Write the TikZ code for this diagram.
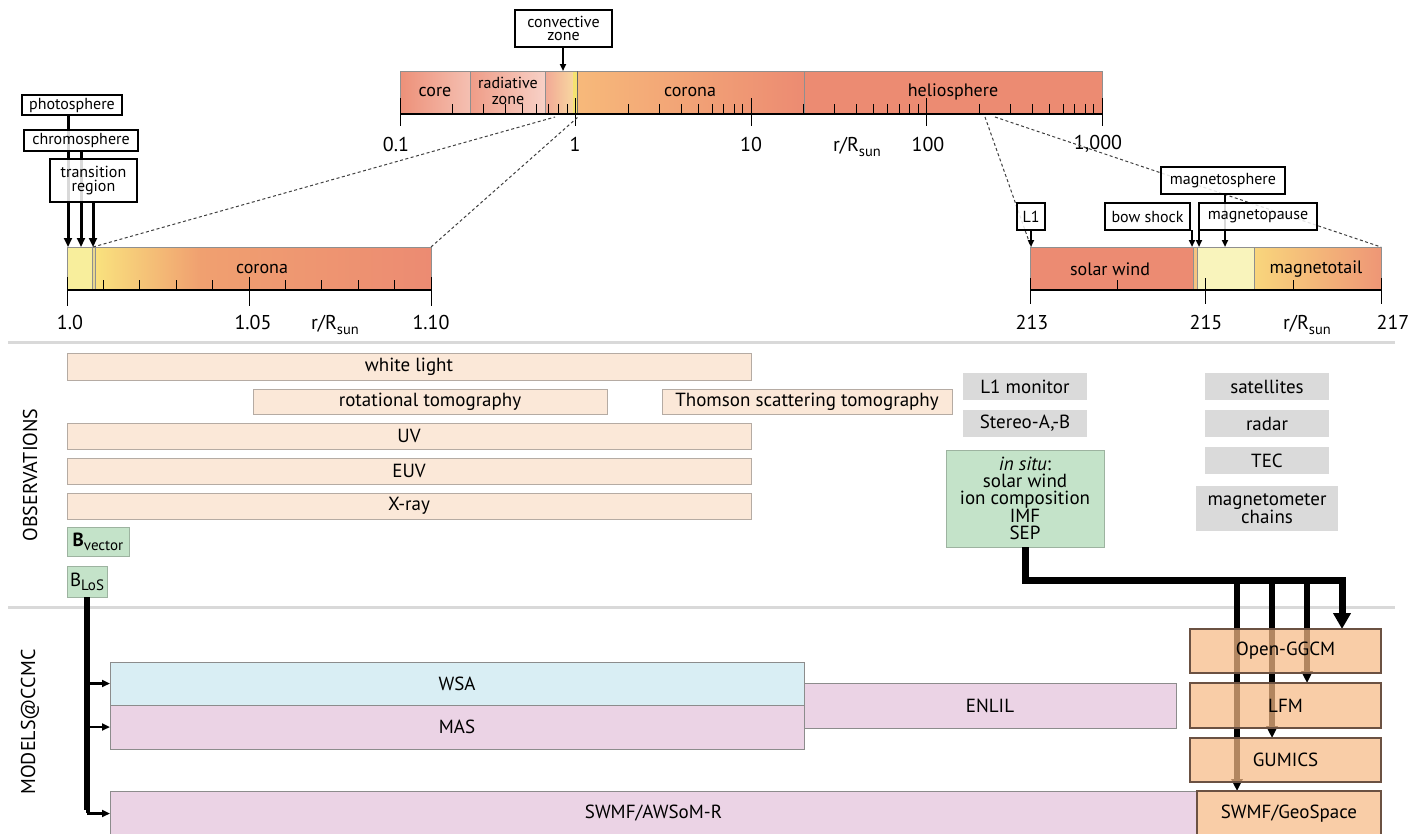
\documentclass[tikz,border=0pt]{standalone}
\usepackage{fontspec}
\setmainfont{PT Sans}
\usetikzlibrary{arrows.meta}
\definecolor{salmon}{HTML}{EC8B72}
\definecolor{beige}{HTML}{FBE8D8}
\definecolor{obsline}{HTML}{B5ABA3}
\definecolor{grnfill}{HTML}{C4E3C9}
\definecolor{grnline}{HTML}{9DB3A0}
\definecolor{grayfill}{HTML}{DADADA}
\definecolor{wsafill}{HTML}{D9EEF4}
\definecolor{pinkfill}{HTML}{EBD3E5}
\definecolor{orgfill}{HTML}{F8BA86}
\definecolor{orgline}{HTML}{6B5142}
\definecolor{sepcol}{HTML}{D9D9D9}
\definecolor{segline}{HTML}{8F8F8F}
\definecolor{yel}{HTML}{F8EE9C}
\definecolor{paleyel}{HTML}{F9F4BC}
\definecolor{convR}{RGB}{248,214,160}
\definecolor{phot}{RGB}{245,226,112}
\definecolor{coronaL}{RGB}{247,185,122}
\definecolor{transc}{RGB}{232,216,140}
\definecolor{lcorY}{RGB}{249,226,126}
\definecolor{lcorM}{RGB}{240,160,112}
\definecolor{bowc}{RGB}{245,196,128}
\definecolor{mtailL}{RGB}{249,214,124}
\definecolor{mtailR}{RGB}{238,150,118}
\newcommand{\bx}[7]{\node[#6, minimum width={#4-#2}, minimum height={#5-#3}] (#1) at ({(#2+#4)/2},{(#3+#5)/2}) {#7};}
\newcommand{\rsun}{r/R\raisebox{-0.45ex}{\fontsize{14.5}{14.5}\selectfont sun}}
\begin{document}
\begin{tikzpicture}[x=1pt,y=-1pt,
  every node/.style={inner sep=0pt, outer sep=0pt},
  lbl/.style={draw=black, line width=1.2pt, fill=white, fill opacity=0.85, text opacity=1, align=center, font=\fontsize{16}{13.5}\selectfont},
  obs/.style={draw=obsline, line width=0.8pt, fill=beige, font=\fontsize{19}{19}\selectfont},
  gobs/.style={fill=grayfill, font=\fontsize{19}{16}\selectfont, align=center},
  grn/.style={draw=grnline, line width=0.8pt, fill=grnfill, font=\fontsize{19}{17}\selectfont, align=center},
  mdl/.style={draw=black!45, line width=0.8pt, font=\fontsize{19}{19}\selectfont},
  org/.style={draw=orgline, line width=1.3pt, fill=orgfill, fill opacity=0.72, text opacity=1, font=\fontsize{19}{19}\selectfont},
  seg/.style={draw=segline, line width=0.9pt},
  axisline/.style={line width=2.8pt},
  tk/.style={line width=1pt},
  ax/.style={font=\fontsize{20}{20}\selectfont},
  sg/.style={font=\fontsize{18}{15}\selectfont, align=center},
  dsh/.style={dash pattern=on 3pt off 2.5pt, line width=1pt, draw=black!75},
  thinarr/.style={line width=1.8pt, -{Triangle[length=7pt,width=6pt]}},
  midarr/.style={line width=3pt, -{Triangle[length=9pt,width=8pt]}},
  bigline/.style={line width=6.5pt, line join=miter},
  bigarr/.style={line width=7pt, line join=miter, -{Triangle[length=16pt,width=17pt]}},
  inarr/.style={line width=6pt, -{Triangle[length=12pt,width=11pt]}},
  sidearr/.style={line width=2.5pt, -{Triangle[length=8pt,width=7pt]}},
  sidetxt/.style={font=\fontsize{20}{20}\selectfont, rotate=90}
]
\fill[white] (0,0) rectangle (1419,833);
\useasboundingbox (0,0) rectangle (1419,833);
\clip (0,0) rectangle (1419,833);

% separators
\draw[sepcol, line width=3pt] (8,342) -- (1395,342);
\draw[sepcol, line width=3pt] (8,607) -- (1395,607);

% ---------- top scale ----------
\shade[left color=salmon!95!white, right color=salmon!55!white] (400,71) rectangle (470,114);
\shade[left color=salmon!85!white, right color=salmon!40!white] (470,71) rectangle (545,114);
\shade[left color=salmon!75!white, right color=convR] (545,71) rectangle (573,114);
\fill[phot] (573,71) rectangle (577,114);
\shade[left color=coronaL, right color=salmon] (577,71) rectangle (804,114);
\fill[salmon] (804,71) rectangle (1102,114);
\draw[seg] (400,71) rectangle (1102,114);
\draw[seg] (470,71) -- (470,114) (545,71) -- (545,114) (804,71) -- (804,114);
\draw[black!60, line width=1pt] (577,71) -- (577,114);
\node[sg] (tcore) at (435,92) {core};
\node[font=\fontsize{16}{16}\selectfont, align=center] (trad) at (508,91) {radiative\\zone};
\node[sg] (tcor) at (690,92) {corona};
\node[sg] (thel) at (953,92) {heliosphere};
\foreach \d in {0,1,2,3}{
  \foreach \l in {0.30103,0.47712,0.60206,0.69897,0.77815,0.84510,0.90309,0.95424}{
    \draw[tk] ({400+175.5*(\d+\l)},104) -- ({400+175.5*(\d+\l)},114);}}
\foreach \d in {0,1,2,3,4}{\draw[tk] ({400+175.5*\d},98) -- ({400+175.5*\d},126);}
\draw[axisline] (400,114) -- (1102,114);
\node[ax] (l01) at (396,144) {0.1};
\node[ax] (l1) at (575,144) {1};
\node[ax] (l10) at (751,144) {10};
\node[ax] (lr1) at (857,147) {\rsun};
\node[ax] (l100) at (928,144) {100};
\node[ax] (l1000) at (1098,144) {1,000};

% ---------- left zoom ----------
\fill[yel] (67,247) rectangle (92,290);
\fill[transc] (92,247) rectangle (95,290);
\shade[left color=lcorY, right color=lcorM] (95,247) rectangle (200,290);
\shade[left color=lcorM, right color=salmon] (200,247) rectangle (431,290);
\draw[seg] (67,247) rectangle (431,290);
\draw[seg] (92,247) -- (92,290) (95,247) -- (95,290);
\node[sg] (lcor) at (262,269) {corona};
\foreach \k in {1,2,3,4,6,7,8,9}{\draw[tk] ({67+36.4*\k},280) -- ({67+36.4*\k},290);}
\foreach \k in {0,5,10}{\draw[tk] ({67+36.4*\k},277) -- ({67+36.4*\k},306);}
\draw[axisline] (67,290) -- (431,290);
\node[ax] (a10) at (70,322) {1.0};
\node[ax] (a105) at (253,322) {1.05};
\node[ax] (lr2) at (335,325) {\rsun};
\node[ax] (a110) at (431,322) {1.10};

% ---------- right zoom ----------
\fill[salmon] (1030,247) rectangle (1193,290);
\fill[bowc] (1193,247) rectangle (1197,290);
\fill[paleyel] (1197,247) rectangle (1254,290);
\shade[left color=mtailL, right color=mtailR] (1254,247) rectangle (1381,290);
\draw[seg] (1030,247) rectangle (1381,290);
\draw[seg] (1193,247) -- (1193,290) (1197,247) -- (1197,290) (1254,247) -- (1254,290);
\node[sg] (rsw) at (1110,269) {solar wind};
\node[sg] (rmt) at (1316,269) {magnetotail};
\foreach \k in {1,3}{\draw[tk] ({1030+87.75*\k},280) -- ({1030+87.75*\k},290);}
\foreach \k in {0,2,4}{\draw[tk] ({1030+87.75*\k},278) -- ({1030+87.75*\k},304);}
\draw[axisline] (1030,290) -- (1381,290);
\node[ax] (r213) at (1032,322) {213};
\node[ax] (r215) at (1206,322) {215};
\node[ax] (lr3) at (1307,325) {\rsun};
\node[ax] (r217) at (1393,322) {217};

% ---------- zoom dashed lines ----------
\coordinate (dA) at (93,247);
\coordinate (dB) at (555,117);
\coordinate (dC) at (431,247);
\coordinate (dD) at (578,117);
\coordinate (dE) at (985,117);
\coordinate (dF) at (1031,247);
\coordinate (dG) at (995,117);
\coordinate (dH) at (1381,247);
\draw[dsh] (dA) -- (dB);
\draw[dsh] (dC) -- (dD);
\draw[dsh] (dE) -- (dF);
\draw[dsh] (dG) -- (dH);

% ---------- layer labels ----------
\coordinate (pt1) at (68,247);
\coordinate (pt2) at (81,247);
\coordinate (pt3) at (93,247);
\coordinate (cz) at (563,71);
\coordinate (pL1) at (1031,247);
\coordinate (pBS) at (1192,247);
\coordinate (pMP) at (1199,247);
\coordinate (pMS) at (1225,247);
\draw[midarr] (68,115) -- (pt1);
\draw[midarr] (81,151) -- (pt2);
\draw[midarr] (93,202) -- (pt3);
\draw[thinarr] (563,47) -- (cz);
\draw[thinarr] (1031,230) -- (pL1);
\draw[thinarr] (1192,230) -- (pBS);
\draw[thinarr] (1199,230) -- (pMP);
\draw[thinarr] (1225,194) -- (pMS);
\bx{photo}{22}{95}{122}{115}{lbl}{photosphere}
\bx{chromo}{24}{130}{138}{151}{lbl}{chromosphere}
\bx{trans}{50}{159}{137}{202}{lbl}{transition\\region}
\bx{conv}{515}{10}{612}{47}{lbl}{convective\\zone}
\bx{L1}{1017}{203}{1045}{230}{lbl}{L1}
\bx{bow}{1105}{203}{1190}{230}{lbl}{bow shock}
\bx{mpause}{1199}{203}{1317}{230}{lbl}{magnetopause}
\bx{msphere}{1161}{167}{1285}{194}{lbl}{magnetosphere}

% ---------- observations ----------
\node[sidetxt] (obsT) at (30,475) {OBSERVATIONS};
\bx{wl}{67}{353}{751}{380}{obs}{white light}
\bx{rt}{253}{389}{607}{414}{obs}{rotational tomography}
\bx{ts}{662}{389}{952}{414}{obs}{Thomson scattering tomography}
\bx{uv}{67}{423}{751}{449}{obs}{UV}
\bx{euv}{67}{458}{751}{484}{obs}{EUV}
\bx{xr}{67}{493}{751}{519}{obs}{X-ray}
\bx{bvec}{67}{527}{129}{556}{grn}{\textbf{B}\raisebox{-0.45ex}{\fontsize{15}{15}\selectfont vector}}
\bx{blos}{67}{566}{107}{597}{grn}{B\raisebox{-0.45ex}{\fontsize{15}{15}\selectfont LoS}}
\bx{l1m}{963}{373}{1087}{400}{gobs}{L1 monitor}
\bx{stereo}{963}{410}{1087}{437}{gobs}{Stereo-A,-B}
\bx{insitu}{946}{450}{1104}{547}{grn}{\textit{in situ}:\\solar wind\\ion composition\\IMF\\SEP}
\bx{sat}{1205}{373}{1329}{400}{gobs}{satellites}
\bx{radar}{1205}{410}{1329}{437}{gobs}{radar}
\bx{tec}{1205}{447}{1329}{474}{gobs}{TEC}
\bx{magc}{1196}{486}{1338}{531}{gobs}{magnetometer\\chains}

% ---------- models ----------
\node[sidetxt] (modT) at (30,722) {MODELS@CCMC};
\bx{wsa}{110}{662}{804}{705}{mdl, fill=wsafill}{WSA}
\bx{mas}{110}{705}{804}{749}{mdl, fill=pinkfill}{MAS}
\bx{enlil}{804}{683}{1176}{728}{mdl, fill=pinkfill}{ENLIL}
\bx{awsom}{110}{791}{1197}{836}{mdl, fill=pinkfill}{SWMF/AWSoM-R}

\draw[bigline] (blos.south) |- (86,810);
\draw[sidearr] (wsa.west -| blos.south) -- (wsa.west);
\draw[sidearr] (mas.west -| blos.south) -- (mas.west);
\draw[sidearr] (awsom.west -| blos.south) -- (awsom.west);

\coordinate (j1) at (1237,580);
\coordinate (j2) at (1272,580);
\coordinate (j3) at (1307,580);
\coordinate (j4) at (1342,580);
\coordinate (e1) at (1237,791);
\coordinate (e2) at (1272,738);
\coordinate (e3) at (1307,683);
\coordinate (e4) at (1342,629);
\draw[inarr] (j1) -- (e1);
\draw[inarr] (j2) -- (e2);
\draw[inarr] (j3) -- (e3);
\draw[bigarr] (insitu.south) |- (j4) -- (e4);
\bx{ogcm}{1190}{629}{1381}{673}{org}{Open-GGCM}
\bx{lfm}{1190}{683}{1381}{728}{org}{LFM}
\bx{gumics}{1190}{738}{1381}{782}{org}{GUMICS}
\bx{swgeo}{1197}{791}{1381}{836}{org}{SWMF/GeoSpace}
\end{tikzpicture}
\end{document}
